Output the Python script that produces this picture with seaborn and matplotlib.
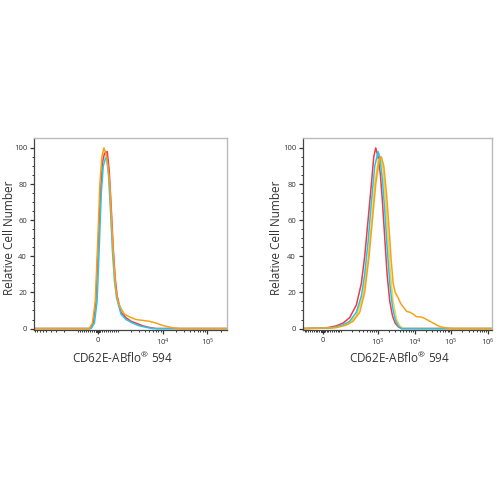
import numpy as np
import matplotlib
matplotlib.use("Agg")
import matplotlib.pyplot as plt
import seaborn as sns

# --- data: left panel (values on a biexponential-like axis) ---
left_red_x = [-9500, -400, -230, -100, 0, 130, 230, 330, 466, 560, 660, 760, 860, 960,
              1170, 1510, 1960, 2530, 3580, 5060, 7140, 270000]
left_red_y = [0, 0, 3, 15, 42, 75, 92, 97, 98, 88, 68, 45, 28, 18,
              9, 6, 4, 3, 1.5, 0.6, 0, 0]

left_cyan_x = [-9500, -330, -170, -40, 60, 170, 270, 370, 433, 530, 630, 730, 830, 930,
               1167, 1510, 2130, 3010, 4250, 6010, 270000]
left_cyan_y = [0, 0, 3, 15, 42, 75, 90, 94, 95, 85, 65, 42, 26, 17,
               8, 5, 3, 1.5, 0.7, 0, 0]

left_orange_x = [-9500, -430, -270, -130, -17, 100, 200, 300, 400, 500, 600, 700, 800, 900,
                 1000, 1170, 1390, 1800, 2530, 3580, 5060, 7140, 9250, 12000, 16900, 24000, 270000]
left_orange_y = [0, 0, 3, 15, 45, 80, 95, 100, 97, 90, 78, 55, 35, 21,
                 15, 11, 8, 6.5, 5, 4.5, 4, 3, 2, 1.2, 0.4, 0, 0]

# --- data: right panel ---
right_red_x = [-110, 27, 73, 112, 170, 259, 355, 438, 541, 667, 773, 877, 1016, 1178,
               1337, 1546, 1791, 2118, 2512, 2972, 3589, 4426, 1300000]
right_red_y = [0, 0.5, 1.5, 3, 6, 13, 25, 40, 60, 80, 95, 100, 95, 85,
               70, 50, 30, 15, 7, 3, 1, 0, 0]

right_cyan_x = [-110, 37, 73, 112, 170, 259, 355, 438, 541, 667, 824, 1016, 1129, 1337,
                1546, 1791, 2118, 2512, 2972, 3589, 4426, 1300000]
right_cyan_y = [0, 0.3, 1, 2, 4, 9, 18, 30, 48, 70, 90, 98, 95, 82,
                65, 45, 25, 12, 5, 1.5, 0, 0]

right_yellow_x = [-110, 55, 112, 170, 259, 394, 541, 667, 824, 1016, 1178, 1393, 1648,
                  1910, 2213, 2618, 3228, 3981, 4920, 1300000]
right_yellow_y = [0, 0.3, 1.5, 3, 7, 18, 38, 58, 80, 93, 95, 88, 70,
                  50, 30, 15, 5, 1.5, 0, 0]

right_orange_x = [-110, 73, 138, 210, 320, 438, 575, 711, 877, 1081, 1253, 1452, 1718, 2032,
                  2307, 2618, 2972, 3589, 4159, 4920, 6067, 7482, 9247, 11400, 14060, 17380,
                  21420, 26420, 32660, 40270, 49660, 75680, 115300, 1300000]
right_orange_y = [0, 0.5, 2, 4, 9, 20, 40, 60, 80, 93, 95, 90, 75, 55,
                  38, 25, 20, 17, 14, 12, 9.5, 9, 8, 6.5, 6.5, 6,
                  5, 4, 3, 2, 1, 0.3, 0, 0]

left_ticks = [0, 1e4, 1e5]
left_ticklabels = ["0", "$10^4$", "$10^5$"]
right_ticks = [0, 1e3, 1e4, 1e5, 1e6]
right_ticklabels = ["0", "$10^3$", "$10^4$", "$10^5$", "$10^6$"]

x_label = "CD62E-ABflo$^{\\circledR}$ 594"
y_label = "Relative Cell Number"

RED = "#ee3b46"
CYAN = "#27c5ee"
YELLOW = "#f2d53c"
ORANGE = "#f5a21b"

sns.set_style("white")
plt.rcParams["font.family"] = ["Open Sans", "DejaVu Sans"]
plt.rcParams["mathtext.default"] = "regular"

fig = plt.figure(figsize=(5, 5), dpi=100)
ax_l = fig.add_axes([0.068, 0.34, 0.386, 0.384])
ax_r = fig.add_axes([0.606, 0.34, 0.378, 0.384])


def minor_positions(lo, hi, majors):
    pos = set()
    for n in range(0, 7):
        for k in range(1, 10):
            v = k * 10 ** n
            for s in (v, -v):
                if lo < s < hi and s not in majors:
                    pos.add(s)
    return sorted(pos)


def style_axis(ax, linthresh, linscale, xlim, ticks, labels, xlab_x, ylab_x):
    ax.set_xscale("symlog", linthresh=linthresh, linscale=linscale)
    ax.set_xlim(*xlim)
    ax.set_ylim(-0.8, 105.5)
    ax.set_xticks(ticks)
    ax.set_xticklabels(labels)
    ax.set_xticks(minor_positions(xlim[0], xlim[1], ticks), minor=True)
    ax.set_yticks(range(0, 101, 20))
    ax.set_yticks(range(0, 101, 5), minor=True)
    ax.tick_params(axis="both", which="major", direction="out", length=3, width=0.9,
                   color="#333333", labelsize=5.5, labelcolor="#333333", pad=2,
                   bottom=True, left=True)
    ax.tick_params(axis="both", which="minor", direction="out", length=1.6, width=0.7,
                   color="#333333", bottom=True, left=True)
    for side in ("left", "bottom"):
        ax.spines[side].set_color("#444444")
        ax.spines[side].set_linewidth(0.9)
    for side in ("top", "right"):
        ax.spines[side].set_color("#bbbbbb")
        ax.spines[side].set_linewidth(1.0)
    ax.set_xlabel(x_label, fontsize=8.5, color="#333333")
    ax.set_ylabel(y_label, fontsize=8.5, color="#333333")
    ax.xaxis.set_label_coords(xlab_x, -0.105)
    ax.yaxis.set_label_coords(ylab_x, 0.48)


lw = 1.1
sns.lineplot(x=left_red_x, y=left_red_y, color=RED, linewidth=lw, sort=False, ax=ax_l)
sns.lineplot(x=left_cyan_x, y=left_cyan_y, color=CYAN, linewidth=lw, sort=False, ax=ax_l)
sns.lineplot(x=left_orange_x, y=left_orange_y, color=ORANGE, linewidth=lw, sort=False, ax=ax_l)

sns.lineplot(x=right_red_x, y=right_red_y, color=RED, linewidth=lw, sort=False, ax=ax_r)
sns.lineplot(x=right_yellow_x, y=right_yellow_y, color=YELLOW, linewidth=lw, sort=False, ax=ax_r)
sns.lineplot(x=right_cyan_x, y=right_cyan_y, color=CYAN, linewidth=lw, sort=False, ax=ax_r)
sns.lineplot(x=right_orange_x, y=right_orange_y, color=ORANGE, linewidth=lw, sort=False, ax=ax_r)

style_axis(ax_l, 1000, 0.405, (-9500, 2.74e5), left_ticks, left_ticklabels, 0.46, -0.093)
style_axis(ax_r, 100, 0.45, (-110, 1.3e6), right_ticks, right_ticklabels, 0.508, -0.105)

fig.savefig("out.png", dpi=100)
